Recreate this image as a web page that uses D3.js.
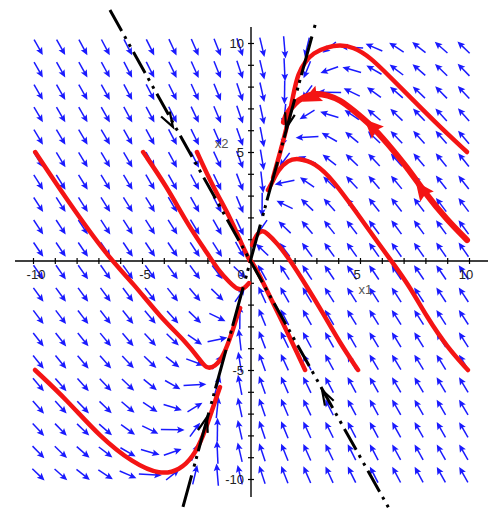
<!DOCTYPE html>
<html>
<head>
<meta charset="utf-8">
<script src="https://cdn.jsdelivr.net/npm/d3@7/dist/d3.min.js"></script>
<style>
  html, body { margin: 0; padding: 0; background: #fff; }
  svg { display: block; }
  text { font-family: "Liberation Sans", Arial, sans-serif; }
</style>
</head>
<body>
<svg id="chart" width="491" height="529"></svg>
<script>
// ---------------- data ----------------
// linear system x' = A x used by the direction field
const fieldMatrix = [[-3.6, 0.7], [5.2, -2.4]];
const fieldGridX = [-9.75, -8.72, -7.70, -6.67, -5.64, -4.62, -3.59, -2.57, -1.54, -0.51,
                    0.51, 1.54, 2.57, 3.59, 4.62, 5.64, 6.67, 7.70, 8.72, 9.75];
const fieldGridY = [-9.8, -8.77, -7.74, -6.71, -5.68, -4.64, -3.61, -2.58, -1.55, -0.52,
                    0.52, 1.55, 2.58, 3.61, 4.64, 5.68, 6.71, 7.74, 8.77, 9.8];

const axisTicks = [-10,-9,-8,-7,-6,-5,-4,-3,-2,-1,0,1,2,3,4,5,6,7,8,9,10];
const xTickLabels = [-10, -5, 0, 5, 10];
const yTickLabels = [-10, -5, 5, 10];
const axisNames = ["x1", "x2"];

// red trajectories
const curveA = [[-9.9,5.0],[-8.44,2.8],[-6.56,0.18],[-5.41,-1.01],[-4.17,-2.57],[-2.94,-3.76],[-2.34,-4.54],[-2.05,-4.95],[-1.65,-4.85],[-1.28,-4.4],[-0.87,-3.3],[-0.6,-2.39],[-0.5,-2.16]];
const curveB = [[-4.95,5.0],[-3.85,3.39],[-2.94,1.74],[-2.02,0.37],[-1.51,-0.41],[-0.96,-1.01],[-0.6,-1.33],[-0.32,-1.28],[-0.09,-1.01]];
const curveC = [[-2.48,5.0],[-1.74,3.39],[-0.96,2.02],[-0.41,0.73],[-0.05,0.0]];
const curveD = [[2.48,-5.0],[1.47,-2.84],[0.87,-1.65],[0.28,-0.41],[0.0,0.0]];
const curveE = [[4.91,-5.0],[4.08,-3.76],[3.3,-2.39],[2.57,-1.19],[1.79,0.05],[1.19,0.83],[0.73,1.28],[0.5,1.42],[0.23,1.19],[0.05,0.73]];
const curveF = [[9.95,-5.0],[8.99,-3.94],[8.07,-2.57],[7.29,-1.19],[6.51,-0.09],[5.83,0.83],[4.86,2.2],[3.76,3.72],[2.94,4.5],[2.16,4.72],[1.7,4.63],[1.24,4.17],[0.96,3.58],[0.78,3.26]];
const curveG = [[9.91,5.0],[8.67,6.15],[7.43,7.39],[6.38,8.44],[5.46,9.36],[4.68,9.82],[4.08,9.91],[3.49,9.82],[2.84,9.54],[2.48,9.13],[2.16,8.62],[1.93,7.61],[1.7,6.33],[1.33,4.95],[1.01,3.81]];
const curveH = [[9.91,0.96],[8.99,1.88],[7.98,3.12],[7.16,4.31],[6.24,5.41],[5.6,6.15],[4.68,6.93],[4.08,7.39],[3.53,7.61],[2.94,7.71],[2.39,7.52],[2.02,7.25],[1.65,6.79],[1.51,6.38]];
const curveI = [[-9.91,-5.0],[-8.44,-6.38],[-6.93,-8.07],[-5.41,-9.27],[-4.17,-9.82],[-3.26,-9.59],[-2.66,-8.99],[-2.2,-8.07],[-1.74,-6.7],[-1.42,-5.78]];
const thinCurves = [curveA, curveB, curveC, curveD, curveE, curveF, curveG, curveI];
const thickCurve = curveH;
// arrowhead tips on the thick trajectory
const redArrowTips = [[7.55, 3.65], [5.2, 6.5], [2.35, 7.3]];

// black eigen-direction lines (end points) and their arrow tips
const fastLine = [[-6.47, 11.51], [6.3, -11.3]];
const slowLine = [[2.94, 10.83], [-3.12, -11.28]];
const blackArrowTips = [[-3.58, 6.15], [3.26, -5.92], [1.61, 6.1], [-2.02, -7.16]];

// ---------------- drawing ----------------
const svg = d3.select("#chart");
const x = d3.scaleLinear().domain([-10, 10]).range([33, 469]);
const y = d3.scaleLinear().domain([-10, 10]).range([479, 43]);

// direction field
const blue = "#1a1aff";
const gField = svg.append("g");
const arrows = [];
fieldGridX.forEach(gx => fieldGridY.forEach(gy => {
  const vx = fieldMatrix[0][0]*gx + fieldMatrix[0][1]*gy;
  const vy = fieldMatrix[1][0]*gx + fieldMatrix[1][1]*gy;
  arrows.push({gx, gy, vx, vy});
}));
const L1 = 24;
arrows.forEach(a => {
  const cx = x(a.gx), cy = y(a.gy);
  const sx = x(a.gx + a.vx) - cx, sy = y(a.gy + a.vy) - cy;
  const s = L1 / (Math.abs(sx) + Math.abs(sy));
  const dx = sx*s, dy = sy*s;
  const len = Math.hypot(dx, dy);
  const ux = dx/len, uy = dy/len;
  const x0 = cx - dx/2, y0 = cy - dy/2, x1 = cx + dx/2, y1 = cy + dy/2;
  const hl = 7.5, hw = 3.4;
  gField.append("line")
    .attr("x1", x0).attr("y1", y0)
    .attr("x2", x1 - ux*hl*0.7).attr("y2", y1 - uy*hl*0.7)
    .attr("stroke", blue).attr("stroke-width", 1.5);
  const bx = x1 - ux*hl, by = y1 - uy*hl;
  gField.append("path")
    .attr("d", `M${x1},${y1}L${bx - uy*hw},${by + ux*hw}L${bx + ux*1.5},${by + uy*1.5}L${bx + uy*hw},${by - ux*hw}Z`)
    .attr("fill", blue);
});

// axes
const gx = svg.append("g").attr("transform", `translate(0,${y(0)})`)
  .call(d3.axisBottom(x).tickValues(axisTicks).tickFormat("").tickSize(3).tickSizeOuter(0));
gx.select(".domain").attr("d", `M15,0H488`).attr("stroke", "#000").attr("stroke-width", 1.4);
gx.selectAll(".tick line").attr("y1", -3).attr("y2", 3).attr("stroke", "#000").attr("stroke-width", 1.2);
const gy = svg.append("g").attr("transform", `translate(${x(0)},0)`)
  .call(d3.axisLeft(y).tickValues(axisTicks).tickFormat("").tickSize(3).tickSizeOuter(0));
gy.select(".domain").attr("d", `M0,27V497`).attr("stroke", "#000").attr("stroke-width", 1.4);
gy.selectAll(".tick line").attr("x1", -3).attr("x2", 3).attr("stroke", "#000").attr("stroke-width", 1.2);

svg.append("g").selectAll("text").data(xTickLabels).join("text")
  .attr("x", d => x(d) + (d < 0 ? 3 : d === 0 ? -10 : -3))
  .attr("y", y(0) + 18)
  .attr("text-anchor", "middle")
  .attr("font-size", 13).attr("fill", "#222")
  .text(d => d < 0 ? "-" + Math.abs(d) : String(d));
svg.append("g").selectAll("text").data(yTickLabels).join("text")
  .attr("x", x(0) - 7)
  .attr("y", d => y(d) + 5)
  .attr("text-anchor", "end")
  .attr("font-size", 13).attr("fill", "#222")
  .text(d => d < 0 ? "-" + Math.abs(d) : String(d));
svg.append("text").attr("x", x(5.25)).attr("y", y(-1.5))
  .attr("text-anchor", "middle").attr("font-size", 13).attr("fill", "#555").text(axisNames[0]);
svg.append("text").attr("x", x(-1.35)).attr("y", y(5.2))
  .attr("text-anchor", "middle").attr("font-size", 13).attr("fill", "#555").text(axisNames[1]);

// red trajectories
const red = "#f41414";
const line = d3.line().x(d => x(d[0])).y(d => y(d[1])).curve(d3.curveBasis);
svg.append("g").selectAll("path").data(thinCurves).join("path")
  .attr("d", line).attr("fill", "none").attr("stroke", red)
  .attr("stroke-width", 4.5).attr("stroke-linecap", "round").attr("stroke-linejoin", "round");
svg.append("path").datum(thickCurve).attr("d", line).attr("fill", "none").attr("stroke", red)
  .attr("stroke-width", 6).attr("stroke-linecap", "round");

// red arrowheads: direction follows the curve towards its end
redArrowTips.forEach(t => {
  let best = 0, bd = Infinity;
  thickCurve.forEach((p, i) => { const d = Math.hypot(p[0]-t[0], p[1]-t[1]); if (d < bd) { bd = d; best = i; } });
  const i0 = Math.max(0, best - 1), i1 = Math.min(thickCurve.length - 1, best + 1);
  let ux = x(thickCurve[i1][0]) - x(thickCurve[i0][0]);
  let uy = y(thickCurve[i1][1]) - y(thickCurve[i0][1]);
  const l = Math.hypot(ux, uy); ux /= l; uy /= l;
  const tx = x(t[0]), ty = y(t[1]);
  const hl = 19, hw = 8.5;
  const bx = tx - ux*hl, by = ty - uy*hl;
  svg.append("path")
    .attr("d", `M${tx},${ty}L${bx - uy*hw},${by + ux*hw}L${bx + ux*3},${by + uy*3}L${bx + uy*hw},${by - ux*hw}Z`)
    .attr("fill", red);
});

// black dash-dot lines
const straight = d3.line().x(d => x(d[0])).y(d => y(d[1]));
svg.append("path").datum(fastLine).attr("d", straight).attr("fill", "none")
  .attr("stroke", "#000").attr("stroke-width", 3)
  .attr("stroke-dasharray", "24,6,3,6,3,6");
svg.append("path").datum(slowLine).attr("d", straight).attr("fill", "none")
  .attr("stroke", "#000").attr("stroke-width", 3)
  .attr("stroke-dasharray", "3,9,40,5,3,5");

// black open arrowheads pointing to the origin
blackArrowTips.forEach(t => {
  const tx = x(t[0]), ty = y(t[1]);
  let ux = x(0) - tx, uy = y(0) - ty;
  const l = Math.hypot(ux, uy); ux /= l; uy /= l;
  const hl = 15, hw = 5;
  const bx = tx - ux*hl, by = ty - uy*hl;
  svg.append("path")
    .attr("d", `M${bx - uy*hw},${by + ux*hw}L${tx},${ty}L${bx + uy*hw},${by - ux*hw}`)
    .attr("fill", "none").attr("stroke", "#000").attr("stroke-width", 2.2);
});
</script>
</body>
</html>
